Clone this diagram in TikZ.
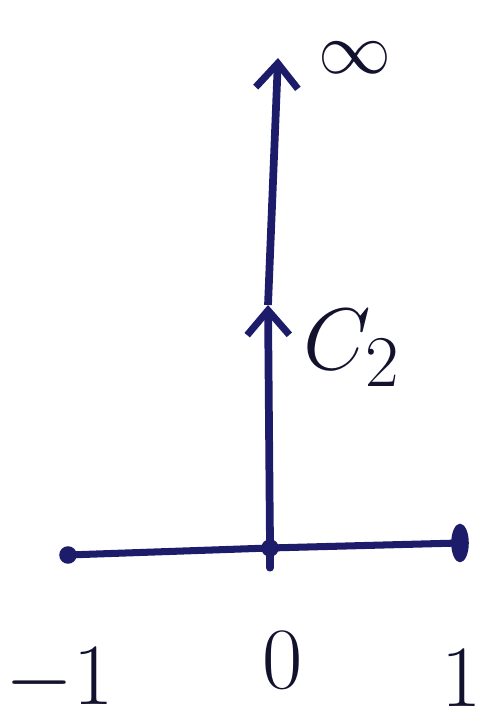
\documentclass[tikz,border=0pt]{standalone}
\usepackage{amsmath,amssymb}
\usepackage{xcolor}
\usetikzlibrary{arrows.meta,positioning,shapes.geometric}
\definecolor{navy}{HTML}{1C1C6A}
\definecolor{ink}{HTML}{12122E}

\begin{document}
\begin{tikzpicture}[x=1cm,y=1cm,
    axis/.style={line width=2pt,navy,line cap=round},
    path/.style={line width=2.2pt,navy,-{Straight Barb[length=7pt,width=12pt,line width=2pt]}},
    lab/.style={ink,font=\fontsize{30}{30}\selectfont},
    blob/.style={circle,fill=navy,inner sep=0pt,minimum size=5pt}]
      \useasboundingbox (0,0) rectangle (4.78,7.2);
      % real axis
      \node[blob] (lft) at (0.68,1.65) {};
      \node[blob] (org) at (2.70,1.72) {};
      \node[blob,ellipse,minimum width=5pt,minimum height=11pt] (rgt) at (4.60,1.77) {};
      \draw[axis] (lft.center) -- (org.center) -- (rgt.center);
      \draw[axis] (2.70,1.52) -- (2.70,1.92);
      % contour up the imaginary axis
      \coordinate (mid) at (2.68,4.15);
      \coordinate (top) at (2.78,6.62);
      \draw[path] (org.center) -- (mid);
      \draw[path] (mid) -- (top);
      \node[lab,font=\fontsize{22}{22}\selectfont,inner sep=1pt] (inf) at (3.55,6.62) {$\infty$};
      \node[lab] (c2) at (3.52,3.72) {$C_2$};
      \node[lab,font=\fontsize{26}{26}\selectfont] (m1) at (0.60,0.40) {$-1$};
      \node[lab] (z0) at (2.83,0.60) {$0$};
      \node[lab] (p1) at (4.62,0.42) {$1$};
    \end{tikzpicture}
\end{document}
